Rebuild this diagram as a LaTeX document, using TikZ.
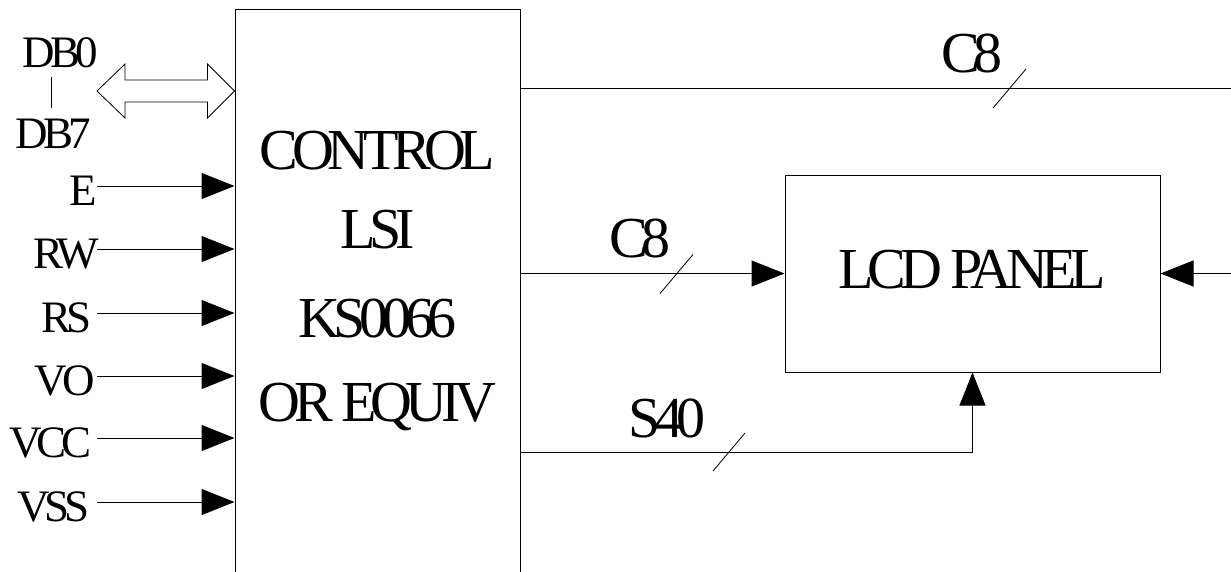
\documentclass[tikz,border=0pt]{standalone}
\usepackage{fontspec}
\usetikzlibrary{arrows.meta,calc}
\newfontfamily\tf[LetterSpace=-11]{Liberation Serif}
\tikzset{
  big/.style={inner sep=0pt,font=\tf\fontsize{58}{60}\selectfont},
  lbl/.style={inner sep=0pt,font=\tf\fontsize{45}{47}\selectfont},
  wire/.style={line width=1pt,draw=black},
  inarrow/.style={wire,-{Triangle[length=33pt,width=26pt]}},
  slash/.style={line width=0.8pt},
  boxed/.style={draw=black,line width=1pt,inner sep=0pt}
}
\begin{document}
\begin{tikzpicture}[x=1pt,y=-1pt]
\useasboundingbox (0,0) rectangle (1231,571);
\clip (0,0) rectangle (1231,571);
% main controller box (extends below the picture)
\node[boxed,minimum width=285pt,minimum height=600pt] (lsi) at (377.5,309) {};
\node[big,anchor=base] (t1) at (377.5,169) {CONTROL};
\node[big,anchor=base] (t2) at (377.5,248) {LSI};
\node[big,anchor=base] (t3) at (377.5,337) {KS0066};
\node[big,anchor=base] (t4) at (377.5,421) {OR EQUIV};
% LCD panel
\node[boxed,minimum width=375pt,minimum height=197pt] (lcd) at (972.5,273.5) {};
\node[big,anchor=base] (lcdt) at (972.5,288) {LCD PANEL};
% data bus
\node[lbl,anchor=base] (db0) at (60,67) {DB0};
\node[lbl,anchor=base] (db7) at (53,148) {DB7};
\coordinate (dba) at (51,77);
\coordinate (dbb) at (51,108);
\draw[line width=0.8pt] (dba) -- (dbb);
\coordinate (bl) at (97,91);
\coordinate (br) at (lsi.west |- bl);
\draw[line width=0.8pt] (bl) -- ++(28,-27) -- ++(0,16) -- ($(br)+(-27,-11)$) -- ++(0,-16) -- (br)
  -- ++(-27,27) -- ++(0,-16) -- ($(bl)+(28,11)$) -- ++(0,16) -- cycle;
% inputs
\foreach \n/\y/\xe in {E/186/97,RW/249/99,RS/313/92,VO/376/95,VCC/438/92,VSS/502/90}{
  \node[lbl,anchor=base east] (l\n) at (\xe,\y+19) {\n};
  \coordinate (s\n) at (97,\y);
  \draw[inarrow] (s\n) -- (s\n -| lsi.west);
}
% top C8 bus
\coordinate (topa) at (lsi.east |- 0,88);
\coordinate (topb) at (1231,88);
\draw[wire] (topa) -- (topb);
\node[big,anchor=base] (c8a) at (972,72) {C8};
\coordinate (sl1) at (1009,88);
\draw[slash] ($(sl1)+(-16,20)$) -- ($(sl1)+(17,-19)$);
% middle C8 bus
\coordinate (mida) at (lsi.east |- lcd.west);
\draw[inarrow] (mida) -- (lcd.west);
\node[big,anchor=base] (c8b) at (640,257) {C8};
\coordinate (sl2) at (677,273.5);
\draw[slash] ($(sl2)+(-17,20)$) -- ($(sl2)+(16,-19)$);
% S40 bus
\coordinate (sa) at (lsi.east |- 0,452);
\coordinate (sb) at (lcd.south |- sa);
\draw[inarrow] (sa) -- (sb) -- (lcd.south);
\node[big,anchor=base] (s40) at (667,437) {S40};
\coordinate (sl3) at (729,452);
\draw[slash] ($(sl3)+(-16,19)$) -- ($(sl3)+(16,-19)$);
% right input
\coordinate (ra) at (lcd.east -| 1231,0);
\draw[inarrow] (ra) -- (lcd.east);
\end{tikzpicture}
\end{document}
